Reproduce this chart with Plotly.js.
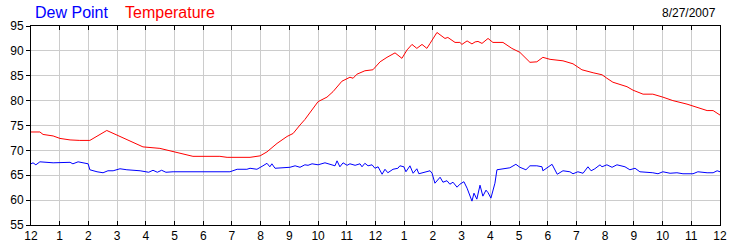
<!DOCTYPE html>
<html>
<head>
<meta charset="utf-8">
<script src="https://cdn.plot.ly/plotly-3.0.1.min.js"></script>
<style>html,body{margin:0;padding:0;background:#fff;}#chart{width:750px;height:250px;}</style>
</head>
<body>
<div id="chart"></div>
<script>
const dateLabel = "8/27/2007";
const seriesNames = ["Dew Point", "Temperature"];
const seriesColors = ["#0000ff", "#ff0000"];

const hourTicks = [0,1,2,3,4,5,6,7,8,9,10,11,12,13,14,15,16,17,18,19,20,21,22,23,24];
const hourLabels = ["12","1","2","3","4","5","6","7","8","9","10","11","12","1","2","3","4","5","6","7","8","9","10","11","12"];

const tempHours = [0,0.31,0.42,0.77,1.01,1.36,1.7,2.05,2.64,3.10,3.55,3.90,4.49,4.95,5.64,6.58,6.83,7.63,7.98,8.22,8.57,8.92,9.13,9.37,9.54,10.0,10.31,10.52,10.83,11.11,11.22,11.35,11.63,11.91,12.16,12.40,12.68,12.92,13.10,13.27,13.44,13.62,13.79,13.90,14.14,14.42,14.52,14.77,14.94,15.01,15.19,15.36,15.47,15.57,15.71,15.92,16.09,16.44,16.75,17.03,17.38,17.62,17.83,18.08,18.53,18.88,19.19,19.58,19.89,20.06,20.27,20.76,20.97,21.32,21.66,22.01,22.36,22.85,23.20,23.55,23.76,24.0];
const tempValues = [73.7,73.7,73.2,72.9,72.4,72.1,72.0,72.0,74.0,72.8,71.6,70.7,70.4,69.7,68.8,68.8,68.6,68.6,68.9,69.7,71.4,72.8,73.4,75.1,76.2,79.8,80.7,81.8,83.9,84.7,84.5,85.3,86.0,86.2,87.8,88.7,89.6,88.5,90.2,91.3,90.5,91.3,90.5,91.5,93.7,92.5,92.7,91.7,91.7,91.3,92.0,91.4,91.8,91.9,91.5,92.5,91.7,91.7,90.5,89.7,87.7,87.8,88.7,88.3,88.0,87.4,86.2,85.6,85.2,84.5,83.7,82.8,82.1,81.3,81.3,80.7,80.0,79.3,78.6,78.0,78.0,77.1];

const dewHours = [0,0.07,0.17,0.31,0.77,1.01,1.36,1.46,1.64,1.99,2.05,2.30,2.51,2.68,2.86,3.10,3.34,3.80,4.10,4.25,4.40,4.55,4.70,4.95,5.43,6.13,6.93,7.18,7.52,7.63,7.87,8.08,8.22,8.32,8.39,8.50,8.92,9.02,9.20,9.37,9.54,9.65,9.79,10.0,10.24,10.48,10.59,10.66,10.76,10.87,11.01,11.11,11.29,11.46,11.53,11.63,11.74,11.88,11.98,12.09,12.23,12.33,12.43,12.61,12.78,12.85,12.99,13.06,13.20,13.31,13.44,13.51,13.72,13.90,13.97,14.07,14.25,14.35,14.49,14.59,14.70,14.84,14.94,15.08,15.19,15.36,15.43,15.53,15.64,15.74,15.85,15.92,16.02,16.16,16.23,16.44,16.68,16.89,17.03,17.24,17.38,17.62,17.80,17.83,17.97,18.15,18.33,18.53,18.77,18.88,19.05,19.23,19.40,19.51,19.64,19.82,19.89,20.06,20.24,20.41,20.69,20.86,21.04,21.21,21.66,21.84,22.01,22.26,22.50,22.71,23.06,23.23,23.55,23.76,23.90,24.0];
const dewValues = [67.3,67.5,67.1,67.7,67.5,67.6,67.6,67.3,67.7,67.3,66.1,65.7,65.5,65.9,65.9,66.3,66.1,65.9,65.6,66.0,65.6,66.0,65.6,65.7,65.7,65.8,65.7,66.2,66.2,66.4,66.2,66.9,67.4,66.7,67.3,66.4,66.5,66.6,66.9,66.6,67.1,67.0,67.3,67.1,67.5,67.0,66.9,67.9,66.7,67.5,67.0,67.3,67.0,67.3,66.7,67.4,66.9,67.1,66.4,66.7,65.2,66.2,65.5,66.2,66.4,66.9,66.7,65.7,66.9,65.4,66.3,65.3,65.7,65.9,65.4,63.4,64.6,63.6,63.9,63.2,63.6,62.6,63.2,63.7,62.4,59.8,61.4,60.2,63.0,60.8,62.0,61.5,60.4,63.4,66.1,66.3,66.5,67.2,66.6,66.1,66.9,66.9,66.7,65.9,66.5,67.2,65.2,65.9,65.7,65.3,65.7,65.4,66.7,65.9,66.3,67.1,66.7,67.1,66.6,67.1,66.7,66.1,66.4,65.7,65.5,65.3,65.7,65.4,65.5,65.3,65.3,65.7,65.5,65.5,65.9,65.7];

const font = "Arial, 'Liberation Sans', sans-serif";

const traces = [
  {x: dewHours, y: dewValues, name: seriesNames[0], type: "scatter", mode: "lines",
   line: {color: seriesColors[0], width: 1}, hoverinfo: "skip"},
  {x: tempHours, y: tempValues, name: seriesNames[1], type: "scatter", mode: "lines",
   line: {color: seriesColors[1], width: 1}, hoverinfo: "skip"}
];

const layout = {
  width: 750, height: 250,
  margin: {l: 31, r: 30, t: 26, b: 25, pad: 0},
  paper_bgcolor: "#ffffff", plot_bgcolor: "#ffffff",
  showlegend: false,
  font: {family: font, size: 12, color: "#000000"},
  xaxis: {
    range: [0, 24], tickmode: "array", tickvals: hourTicks, ticktext: hourLabels,
    showgrid: true, gridcolor: "#cccccc", gridwidth: 1,
    showline: true, linecolor: "#000000", linewidth: 1, mirror: "ticks",
    ticks: "inside", ticklen: 4, tickcolor: "#000000", tickwidth: 1,
    zeroline: false, tickfont: {family: font, size: 12, color: "#000000"}, fixedrange: true
  },
  yaxis: {
    range: [55, 95], tickmode: "linear", tick0: 55, dtick: 5,
    showgrid: true, gridcolor: "#cccccc", gridwidth: 1,
    showline: true, linecolor: "#000000", linewidth: 1, mirror: true,
    ticks: "outside", ticklen: 4, tickcolor: "#000000", tickwidth: 1,
    zeroline: false, tickfont: {family: font, size: 12, color: "#000000"}, fixedrange: true
  },
  yaxis2: {
    overlaying: "y", side: "right", range: [55, 95], tickmode: "linear", tick0: 55, dtick: 5,
    showgrid: false, showline: false, zeroline: false,
    ticks: "outside", ticklen: 4, tickcolor: "#000000", tickwidth: 1,
    tickfont: {family: font, size: 12, color: "#000000"}, fixedrange: true
  },
  annotations: [
    {text: seriesNames[0], xref: "paper", yref: "paper", x: 0.003, y: 1.066, xanchor: "left", yanchor: "middle",
     showarrow: false, font: {family: font, size: 16, color: seriesColors[0]}},
    {text: seriesNames[1], xref: "paper", yref: "paper", x: 0.133, y: 1.066, xanchor: "left", yanchor: "middle",
     showarrow: false, font: {family: font, size: 16, color: seriesColors[1]}},
    {text: dateLabel, xref: "paper", yref: "paper", x: 0.997, y: 1.066, xanchor: "right", yanchor: "middle",
     showarrow: false, font: {family: font, size: 12, color: "#000000"}}
  ]
};

Plotly.newPlot("chart", traces, layout, {staticPlot: true, displayModeBar: false});
</script>
</body>
</html>
